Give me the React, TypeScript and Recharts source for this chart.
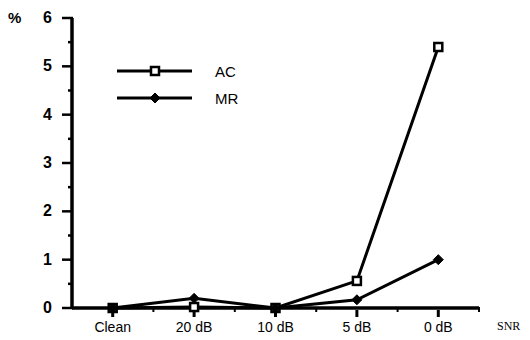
import React from 'react';
import { LineChart, Line, XAxis, YAxis } from 'recharts';

const categories = ['Clean', '20 dB', '10 dB', '5 dB', '0 dB'];
const acValues = [0, 0.02, 0, 0.56, 5.4];
const mrValues = [0, 0.2, 0, 0.17, 1.0];
const yTicks = [0, 0.5, 1, 1.5, 2, 2.5, 3, 3.5, 4, 4.5, 5, 5.5, 6];

const data = categories.map((name, i) => ({ name, AC: acValues[i], MR: mrValues[i] }));

const W = 530;
const H = 340;
const margin = { top: 18, right: 51, bottom: 0, left: 0 };
const yAxisWidth = 72;
const xAxisHeight = 32;
const plotWidth = W - margin.right - yAxisWidth;
const band = plotWidth / categories.length;
const font = 'Arial, "Liberation Sans", Helvetica, sans-serif';
const ink = '#000';

const renderYTick = (props: any) => {
  const { x, y, payload } = props;
  const major = Number.isInteger(payload.value);
  return (
    <g key={`y-${payload.value}`}>
      <line x1={x - (major ? 10 : 4)} y1={y} x2={x + 1} y2={y} stroke={ink} strokeWidth={2.5} />
      {major && (
        <text x={x - 20} y={y + 5} textAnchor="end" fontFamily={font} fontSize={16} fontWeight="bold" fill={ink}>
          {payload.value}
        </text>
      )}
    </g>
  );
};

const renderXTick = (props: any) => {
  const { x, y, payload, index } = props;
  return (
    <g key={`x-${index}`}>
      <line x1={x} y1={y} x2={x} y2={y + 7} stroke={ink} strokeWidth={3} />
      <line x1={x + band / 2} y1={y - 3} x2={x + band / 2} y2={y + 2} stroke={ink} strokeWidth={2} />
      <text x={x} y={y + 22} textAnchor="middle" fontFamily={font} fontSize={14} fill={ink}>
        {payload.value}
      </text>
    </g>
  );
};

const SquareDot = (props: any) => {
  const { cx, cy } = props;
  if (cx == null || cy == null) return null;
  return <rect x={cx - 4} y={cy - 4} width={8} height={8} fill="#fff" stroke={ink} strokeWidth={2.5} />;
};

const DiamondDot = (props: any) => {
  const { cx, cy } = props;
  if (cx == null || cy == null) return null;
  return <path d={`M${cx},${cy - 5} L${cx + 5},${cy} L${cx},${cy + 5} L${cx - 5},${cy} Z`} fill={ink} stroke={ink} strokeWidth={1} />;
};

export default function App() {
  return (
    <div style={{ position: 'absolute', left: 0, top: 0, width: W, height: H, background: '#fff' }}>
      <LineChart width={W} height={H} data={data} margin={margin}>
        <XAxis
          xAxisId="main"
          dataKey="name"
          scale="band"
          height={xAxisHeight}
          stroke={ink}
          strokeWidth={3.5}
          tickLine={false}
          tickSize={0}
          tick={renderXTick}
          interval={0}
        />
        <XAxis xAxisId="top" orientation="top" dataKey="name" height={0} tick={false} stroke={ink} strokeWidth={3.5} />
        <YAxis
          yAxisId="main"
          domain={[0, 6]}
          ticks={yTicks}
          interval={0}
          width={yAxisWidth}
          stroke={ink}
          strokeWidth={3.5}
          tickLine={false}
          tickSize={0}
          tickMargin={0}
          tick={renderYTick}
        />
        <YAxis yAxisId="right" orientation="right" domain={[0, 6]} width={0} tick={false} stroke={ink} strokeWidth={3.5} />
        <Line xAxisId="main" yAxisId="main" dataKey="AC" stroke={ink} strokeWidth={3} dot={<SquareDot />} isAnimationActive={false} />
        <Line xAxisId="main" yAxisId="main" dataKey="MR" stroke={ink} strokeWidth={3} dot={<DiamondDot />} isAnimationActive={false} />
      </LineChart>
      <svg width={W} height={H} style={{ position: 'absolute', left: 0, top: 0, pointerEvents: 'none' }}>
        <text x={8} y={23} fontFamily={font} fontSize={15} fontWeight="bold" fill={ink}>%</text>
        <text x={497} y={330} fontFamily='"Liberation Serif", "Times New Roman", serif' fontSize={12} fill={ink}>SNR</text>
        <line x1={117} y1={71} x2={192} y2={71} stroke={ink} strokeWidth={3} />
        <SquareDot cx={155} cy={71} />
        <text x={215} y={77} fontFamily={font} fontSize={15} fill={ink}>AC</text>
        <line x1={117} y1={98} x2={192} y2={98} stroke={ink} strokeWidth={3} />
        <DiamondDot cx={155} cy={98} />
        <text x={215} y={104} fontFamily={font} fontSize={15} fill={ink}>MR</text>
      </svg>
    </div>
  );
}
